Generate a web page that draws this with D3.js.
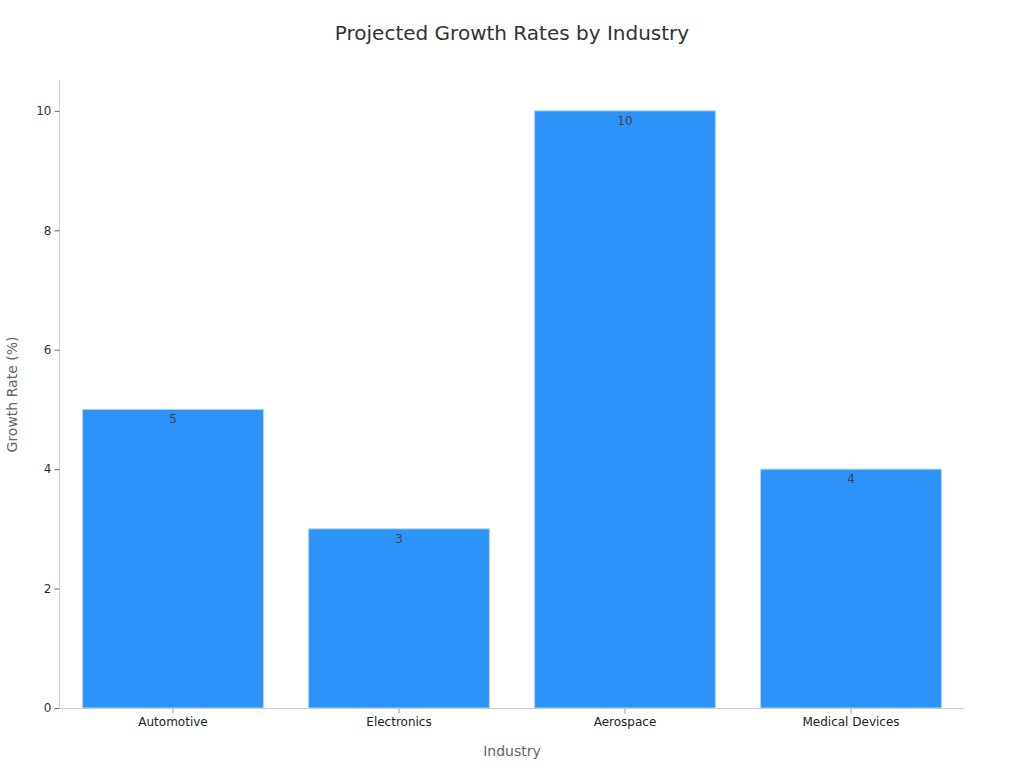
<!DOCTYPE html>
<html>
<head>
<meta charset="utf-8">
<script src="https://cdn.jsdelivr.net/npm/d3@7"></script>
<style>
  html, body { margin: 0; padding: 0; background: #fff; }
  svg { display: block; font-family: "DejaVu Sans", sans-serif; }
</style>
</head>
<body>
<script>
const categories = ["Automotive", "Electronics", "Aerospace", "Medical Devices"];
const values = [5, 3, 10, 4];
const yTicks = [0, 2, 4, 6, 8, 10];
const title = "Projected Growth Rates by Industry";
const xTitle = "Industry";
const yTitle = "Growth Rate (%)";

const W = 1024, H = 768;
const m = { left: 60, right: 60, top: 81, bottom: 60 };

const svg = d3.select("body").append("svg").attr("width", W).attr("height", H);

const x = d3.scaleBand().domain(categories).range([m.left, W - m.right]).paddingInner(0.2).paddingOuter(0.1);
const y = d3.scaleLinear().domain([0, 10.5]).range([H - m.bottom, m.top]);

svg.append("text").attr("x", W / 2).attr("y", 40).attr("text-anchor", "middle")
  .attr("font-size", 20).attr("fill", "#333").text(title);

// bars
svg.append("g").selectAll("rect").data(values).join("rect")
  .attr("x", (d, i) => x(categories[i]))
  .attr("y", d => y(d))
  .attr("width", x.bandwidth())
  .attr("height", d => y(0) - y(d))
  .attr("fill", "#2E93F8")
  .attr("stroke", "#a9d2fb").attr("stroke-width", 1);

// value labels
svg.append("g").selectAll("text").data(values).join("text")
  .attr("x", (d, i) => x(categories[i]) + x.bandwidth() / 2)
  .attr("y", d => y(d) + 14)
  .attr("text-anchor", "middle").attr("font-size", 12).attr("fill", "#444")
  .text(d => d);

// y axis
const yAxis = svg.append("g").attr("transform", `translate(${m.left - 0.5},0)`)
  .call(d3.axisLeft(y).tickValues(yTicks).tickSize(5).tickPadding(3));
yAxis.select(".domain").attr("stroke", "#ccc").attr("d", `M0,${m.top - 1}V${H - m.bottom}`);
yAxis.selectAll(".tick line").attr("stroke", "#666");
yAxis.selectAll(".tick text").attr("font-size", 12).attr("fill", "#333").attr("font-family", "DejaVu Sans");

// x axis
const xAxis = svg.append("g").attr("transform", `translate(0,${H - m.bottom + 0.5})`)
  .call(d3.axisBottom(x).tickSize(5).tickPadding(4));
xAxis.select(".domain").attr("stroke", "#ccc").attr("d", `M${m.left - 1},0H${W - m.right}`);
xAxis.selectAll(".tick line").attr("stroke", "#999");
xAxis.selectAll(".tick text").attr("font-size", 12).attr("fill", "#222").attr("font-family", "DejaVu Sans");

// axis titles
svg.append("text").attr("x", (m.left + W - m.right) / 2).attr("y", 756).attr("text-anchor", "middle")
  .attr("font-size", 14).attr("fill", "#666").text(xTitle);
svg.append("text").attr("transform", `translate(17,${(m.top + H - m.bottom) / 2}) rotate(-90)`)
  .attr("text-anchor", "middle").attr("font-size", 14).attr("fill", "#666").text(yTitle);
</script>
</body>
</html>
